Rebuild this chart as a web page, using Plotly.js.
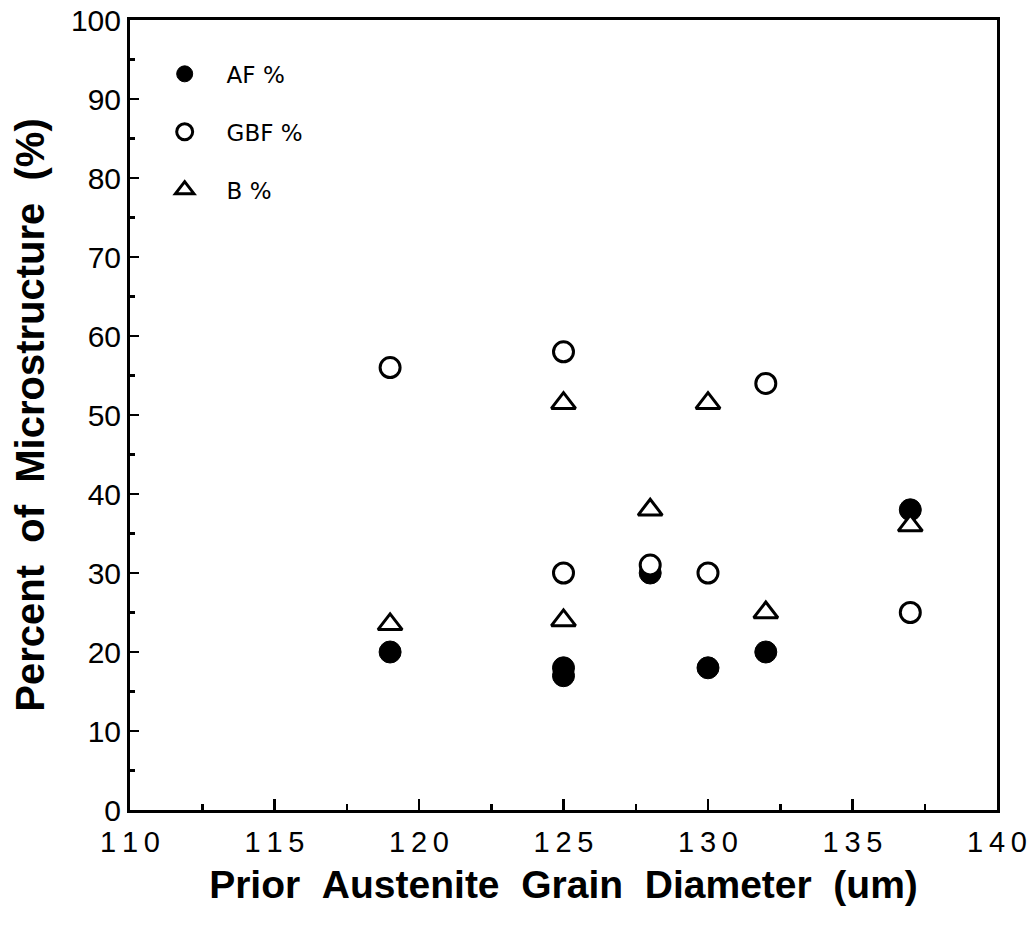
<!DOCTYPE html>
<html>
<head>
<meta charset="utf-8">
<script src="https://cdn.plot.ly/plotly-3.0.1.min.js"></script>
<style>html,body{margin:0;padding:0;background:#fff;}#chart{width:1032px;height:935px;}</style>
</head>
<body>
<div id="chart"></div>
<script>
// Data
const afX = [119, 125, 125, 128, 130, 132, 137];
const afY = [20, 18, 17, 30, 18, 20, 38];
const gbfX = [119, 125, 125, 128, 130, 132, 137];
const gbfY = [56, 58, 30, 31, 30, 54, 25];
const bX = [119, 125, 125, 128, 130, 132, 137];
const bY = [23.5, 51.5, 24, 38, 51.5, 25, 36];

const xTickVals = [110, 115, 120, 125, 130, 135, 140];
const xTickText = ["1\u20091\u20090", "1\u20091\u20095", "1\u20092\u20090", "1\u20092\u20095", "1\u20093\u20090", "1\u20093\u20095", "1\u20094\u20090"];
const yTickVals = [0, 10, 20, 30, 40, 50, 60, 70, 80, 90, 100];

const seriesNames = ["AF %", "GBF %", "B %"];

const S = "\u00a0\u00a0";
const xTitle = "Prior" + S + "Austenite" + S + "Grain" + S + "Diameter" + S + "(um)";
const yTitle = "Percent" + S + "of" + S + "Microstructure" + S + "(%)";
const pad = "\u00a0\u00a0\u00a0";

const traces = [
  {x: afX, y: afY, name: pad + seriesNames[0], type: 'scatter', mode: 'markers', legendgroup: 'a',
   marker: {symbol: 'circle', size: 22, color: '#000', line: {color: '#000', width: 1}}},
  {x: gbfX, y: gbfY, name: pad + seriesNames[1], type: 'scatter', mode: 'markers', legendgroup: 'b',
   marker: {symbol: 'circle', size: 20, color: '#fff', line: {color: '#000', width: 3}}},
  {x: bX, y: bY, name: pad + seriesNames[2], type: 'scatter', mode: 'markers', legendgroup: 'c',
   marker: {symbol: 'triangle-up', size: 21, color: '#fff', line: {color: '#000', width: 3}}}
];

const layout = {
  width: 1032, height: 935,
  margin: {l: 130, r: 35, t: 20, b: 125},
  paper_bgcolor: '#fff', plot_bgcolor: '#fff',
  font: {family: 'Liberation Sans, Arial, sans-serif', color: '#000'},
  showlegend: true,
  legend: {x: 0.04, y: 0.959, xanchor: 'left', yanchor: 'top', bgcolor: 'rgba(0,0,0,0)',
           font: {family: 'DejaVu Sans, sans-serif', size: 23, color: '#000'},
           tracegroupgap: 25, traceorder: 'grouped'},
  xaxis: {
    range: [110, 140], showgrid: false, zeroline: false,
    showline: true, linecolor: '#000', linewidth: 3, mirror: true,
    ticks: 'inside', ticklen: 11, tickwidth: 2.5, tickcolor: '#000',
    tickvals: xTickVals, ticktext: xTickText, ticklabelstandoff: 4,
    tickfont: {size: 29, family: 'Liberation Sans, Arial, sans-serif'},
    minor: {dtick: 2.5, ticks: 'inside', ticklen: 6, tickwidth: 2.5, tickcolor: '#000', showgrid: false},
    title: {text: xTitle, font: {size: 39, family: 'Liberation Sans, Arial, sans-serif', weight: 'bold'}, standoff: 14}
  },
  yaxis: {
    range: [0, 100], showgrid: false, zeroline: false,
    showline: true, linecolor: '#000', linewidth: 3, mirror: true,
    ticks: 'inside', ticklen: 9, tickwidth: 2.5, tickcolor: '#000',
    tickvals: yTickVals,
    tickfont: {size: 30, family: 'Liberation Sans, Arial, sans-serif'},
    minor: {dtick: 5, ticks: 'inside', ticklen: 5, tickwidth: 2.5, tickcolor: '#000', showgrid: false},
    title: {text: yTitle, font: {size: 40, family: 'Liberation Sans, Arial, sans-serif', weight: 'bold'}, standoff: 14}
  }
};

Plotly.newPlot('chart', traces, layout, {staticPlot: true, displayModeBar: false});
</script>
</body>
</html>
